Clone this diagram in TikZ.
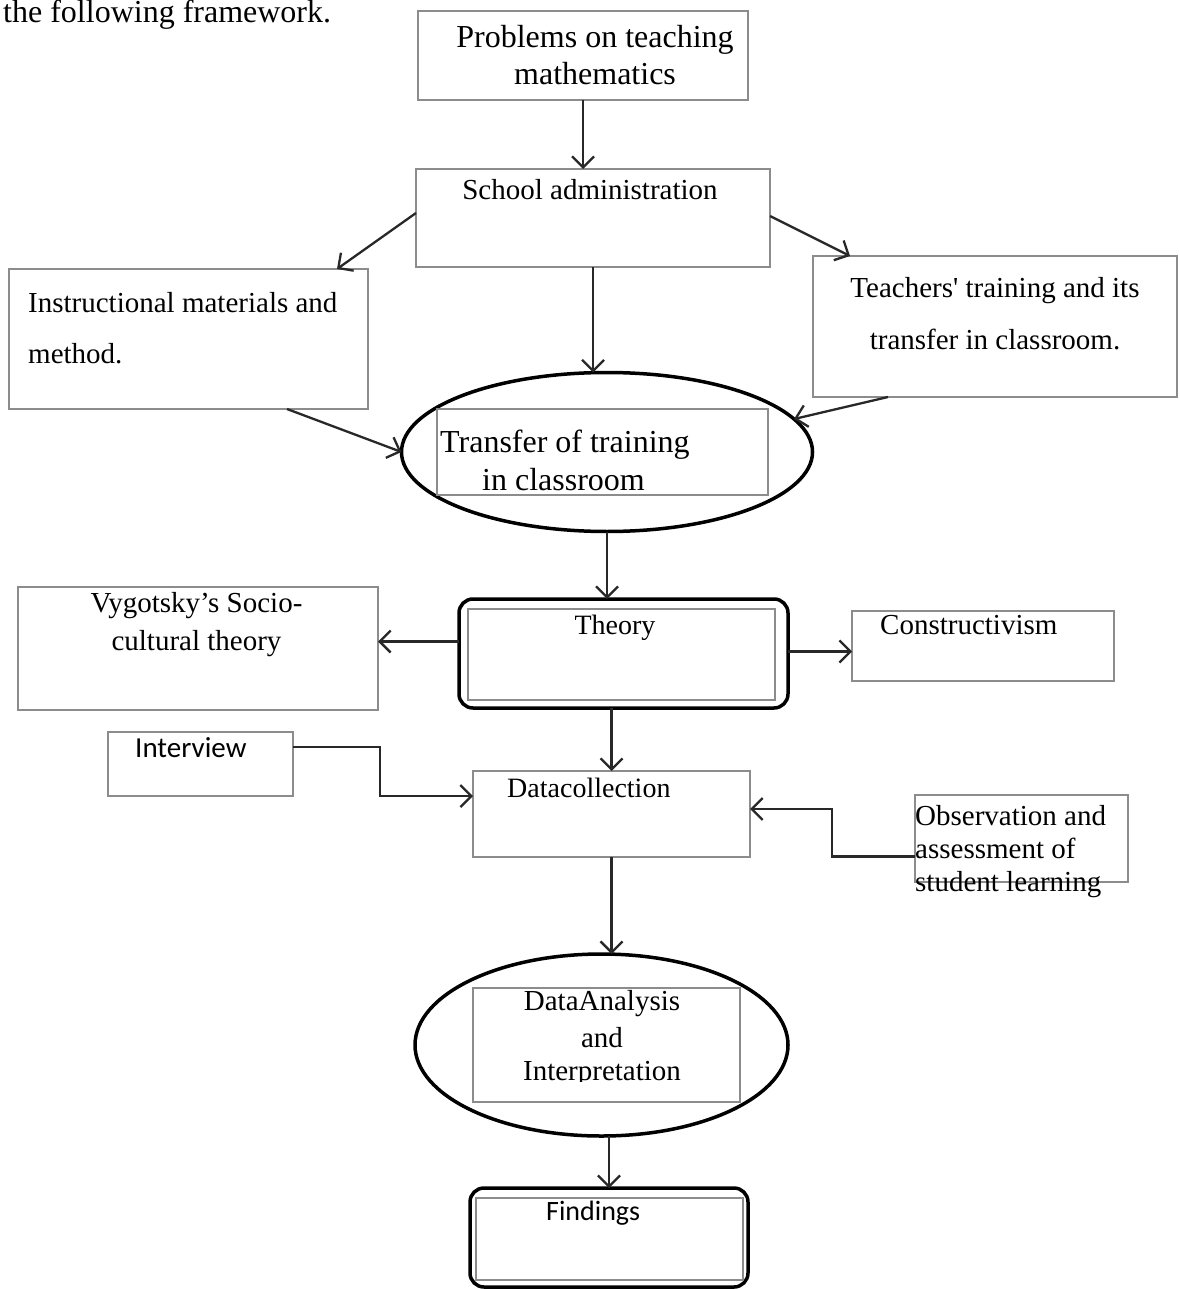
\documentclass[tikz,border=0pt]{standalone}
\usepackage{fontspec}
\setmainfont{Liberation Serif}
\newfontfamily\calibri{Carlito}
\usetikzlibrary{shapes.geometric,arrows.meta}
\definecolor{boxgray}{RGB}{140,140,140}
\definecolor{linegray}{RGB}{40,40,40}
\newcommand{\fsz}[1]{\fontsize{#1}{#1}\selectfont}

\begin{document}
\begin{tikzpicture}[x=1pt,y=-1pt,
            box/.style={draw=boxgray,line width=1.6pt,inner sep=0pt,outer sep=0pt},
            oval/.style={ellipse,draw=black,line width=3.5pt,inner sep=0pt,outer sep=0pt},
            thickframe/.style={draw=black,line width=3.5pt,rounded corners=14pt,inner sep=0pt,outer sep=0pt},
            txt/.style={inner sep=0pt,anchor=base},
            arr/.style={draw=linegray,line width=2.3pt,-{Straight Barb[length=11pt,width=22pt]}}]
            \useasboundingbox[fill=white] (0,0) rectangle (1179,1289);
            \node[txt,anchor=base west,font=\fsz{32}] (intro) at (3,23) {the following framework.};
            \node[box,minimum width=330pt,minimum height=89pt] (prob) at (583,55.5) {};
            \node[box,minimum width=354pt,minimum height=98pt] (school) at (593,218) {};
            \node[box,minimum width=359pt,minimum height=140pt] (instr) at (188.5,339) {};
            \node[box,minimum width=364pt,minimum height=141pt] (teach) at (995,326.5) {};
            \node[oval,minimum width=411pt,minimum height=159pt] (trans) at (607,452) {};
            \node[box,minimum width=331pt,minimum height=86pt] (transin) at (602.5,452) {};
            \node[thickframe,minimum width=329pt,minimum height=109pt] (theory) at (623.5,653.5) {};
            \node[box,minimum width=307pt,minimum height=91pt] (theoryin) at (621.5,654.5) {};
            \node[box,minimum width=360pt,minimum height=123pt] (vyg) at (198,648.5) {};
            \node[box,minimum width=262pt,minimum height=70pt] (cons) at (983,646) {};
            \node[box,minimum width=185pt,minimum height=64pt] (inter) at (200.5,764) {};
            \node[box,minimum width=277pt,minimum height=86pt] (data) at (611.5,814) {};
            \node[box,minimum width=213pt,minimum height=87pt] (obs) at (1021.5,838.5) {};
            \node[oval,minimum width=373pt,minimum height=182pt] (anal) at (601.5,1045) {};
            \node[box,minimum width=267pt,minimum height=114pt] (analin) at (606.5,1045) {};
            \node[thickframe,minimum width=278pt,minimum height=99pt] (find) at (609,1237.5) {};
            \node[box,minimum width=267pt,minimum height=82pt] (findin) at (609.5,1239) {};
            \draw[arr] (prob.south) -- (prob.south |- school.north);
            \draw[arr] ([yshift=5pt]school.west) -- ([xshift=-31pt]instr.north east);
            \draw[arr] ([yshift=2pt]school.east) -- ([xshift=37pt]teach.north west);
            \draw[arr] (school.south) -- (school.south |- trans.north);
            \draw[arr] ([xshift=-81pt]instr.south east) -- (trans.west);
            \draw[arr] ([xshift=75pt]teach.south west) -- (trans.10);
            \draw[arr] (trans.south) -- (trans.south |- theory.north);
            \draw[arr] ([yshift=12pt]theory.west) -- ([yshift=12pt]theory.west -| vyg.east);
            \draw[arr] ([yshift=2pt]theory.east) -- ([yshift=2pt]theory.east -| cons.west);
            \draw[arr] (theory.south -| data) -- (data);
            \draw[arr] ([yshift=17pt]inter.east) -- ++(87,0) |- ([yshift=18pt]data.west);
            \draw[arr] ([yshift=-18pt]obs.west) -- ++(-83,0) |- ([yshift=5pt]data.east);
            \draw[arr] (data.south) -- (data.south |- anal.north);
            \draw[arr] (anal.south -| find) -- (find);
            \node[txt,font=\fsz{32}] (prob1) at (595,48) {Problems on teaching};
            \node[txt,font=\fsz{32}] (prob2) at (595,85) {mathematics};
            \node[txt,font=\fsz{29}] (school1) at (590,200) {School administration};
            \node[txt,anchor=base west,font=\fsz{29}] (instr1) at (28,312) {Instructional materials and};
            \node[txt,anchor=base west,font=\fsz{29}] (instr2) at (28,363) {method.};
            \node[txt,font=\fsz{29}] (teach1) at (995,297) {Teachers\textquotesingle\ training and its};
            \node[txt,font=\fsz{29}] (teach2) at (995,349) {transfer in classroom.};
            \node[txt,anchor=base west,font=\fsz{32}] (trans1) at (440,452) {Transfer of training};
            \node[txt,anchor=base west,font=\fsz{32}] (trans2) at (482,490) {in classroom};
            \node[txt,font=\fsz{28}] (theory1) at (615,634) {Theory};
            \node[txt,font=\fsz{29}] (vyg1) at (196.5,612) {Vygotsky’s Socio-};
            \node[txt,font=\fsz{29}] (vyg2) at (196.5,650) {cultural theory};
            \node[txt,anchor=base west,font=\fsz{29}] (cons1) at (880,634) {Constructivism};
            \node[txt,anchor=base west,font=\calibri\fsz{29}] (inter1) at (135,757) {Interview};
            \node[txt,anchor=base west,font=\fsz{28}] (data1) at (507,797) {Datacollection};
            \node[txt,anchor=base west,font=\fsz{29}] (obs1) at (915,825) {Observation and};
            \node[txt,anchor=base west,font=\fsz{29}] (obs2) at (915,858) {assessment of};
            \node[txt,anchor=base west,font=\fsz{29}] (obs3) at (915,891) {student learning};
            \node[txt,font=\fsz{29}] (anal1) at (602,1010) {DataAnalysis};
            \node[txt,font=\fsz{29}] (anal2) at (602,1047) {and};
            \begin{scope}
                \clip (473,988) rectangle (740,1081);
                \node[txt,font=\fsz{29}] (anal3) at (602,1080) {Interpretation};
            \end{scope}
            \node[txt,anchor=base west,font=\calibri\fsz{28}] (find1) at (546,1220) {Findings};
        \end{tikzpicture}
\end{document}
